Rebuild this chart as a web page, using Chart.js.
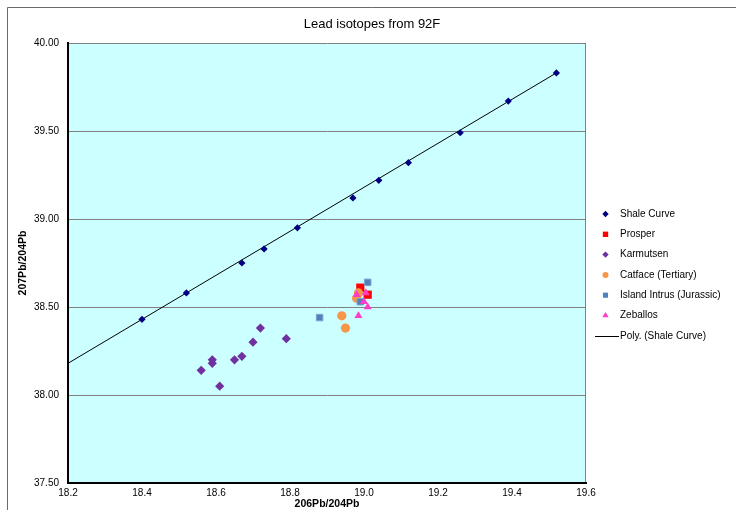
<!DOCTYPE html>
<html>
<head>
<meta charset="utf-8">
<script src="https://cdn.jsdelivr.net/npm/chart.js@4/dist/chart.umd.min.js"></script>
<style>
html,body{margin:0;padding:0;background:#ffffff;}
#wrap{position:relative;width:736px;height:510px;}
</style>
</head>
<body>
<div id="wrap"><canvas id="c" width="736" height="510"></canvas></div>
<script>
// ---- text ----
const chartTitle = 'Lead isotopes from 92F';
const xAxisTitle = '206Pb/204Pb';
const yAxisTitle = '207Pb/204Pb';
const seriesNames = ['Shale Curve', 'Prosper', 'Karmutsen', 'Catface (Tertiary)', 'Island Intrus (Jurassic)', 'Zeballos', 'Poly. (Shale Curve)'];

// ---- axis ticks ----
const xMin = 18.2, xMax = 19.6, xStep = 0.2;
const yMin = 37.5, yMax = 40.0, yStep = 0.5;

// ---- series values ----
const shaleX = [18.40, 18.52, 18.67, 18.73, 18.82, 18.97, 19.04, 19.12, 19.26, 19.39, 19.52];
const shaleY = [38.43, 38.58, 38.75, 38.83, 38.95, 39.12, 39.22, 39.32, 39.49, 39.67, 39.83];

const prosperX = [18.99, 19.01];
const prosperY = [38.61, 38.57];

const karmutsenX = [18.56, 18.59, 18.59, 18.61, 18.65, 18.67, 18.70, 18.72, 18.79];
const karmutsenY = [38.14, 38.18, 38.20, 38.05, 38.20, 38.22, 38.30, 38.38, 38.32];

const catfaceX = [18.94, 18.95, 18.985, 18.98];
const catfaceY = [38.45, 38.38, 38.58, 38.55];

const islandX = [19.01, 18.88, 18.99];
const islandY = [38.64, 38.44, 38.53];

const zeballosX = [19.005, 18.98, 19.00, 19.01, 18.985];
const zeballosY = [38.58, 38.57, 38.53, 38.50, 38.45];

// trendline
const trendX = [18.2, 18.4, 18.8, 19.2, 19.52];
const trendY = [38.18, 38.43, 38.93, 39.43, 39.83];

const pts = (xs, ys) => xs.map((x, i) => ({x: x, y: ys[i]}));

const FONT = '"Liberation Sans", Arial, Helvetica, sans-serif';

const datasets = [
  {label: seriesNames[0], data: pts(shaleX, shaleY), pointStyle: 'rectRot', pointRadius: 3.6, backgroundColor: '#000080', borderColor: '#000080', borderWidth: 0, order: 9},
  {label: seriesNames[1], data: pts(prosperX, prosperY), pointStyle: 'rect', pointRadius: 5.8, backgroundColor: '#FF0000', borderColor: '#FF0000', borderWidth: 0, order: 8},
  {label: seriesNames[2], data: pts(karmutsenX, karmutsenY), pointStyle: 'rectRot', pointRadius: 4.6, backgroundColor: '#7030A0', borderColor: '#7030A0', borderWidth: 0, order: 7},
  {label: seriesNames[3], data: pts(catfaceX, catfaceY), pointStyle: 'circle', pointRadius: 4.6, backgroundColor: '#F79646', borderColor: '#F79646', borderWidth: 0, order: 6},
  {label: seriesNames[4], data: pts(islandX, islandY), pointStyle: 'rect', pointRadius: 4.6, backgroundColor: '#4F81BD', borderColor: '#7FA3D0', borderWidth: 1, order: 5},
  {label: seriesNames[5], data: pts(zeballosX, zeballosY), pointStyle: 'triangle', pointRadius: 4.6, backgroundColor: '#FF3CC8', borderColor: '#FF3CC8', borderWidth: 0, order: 4},
  {label: seriesNames[6], data: pts(trendX, trendY), showLine: true, pointRadius: 0, borderColor: '#000000', borderWidth: 1, backgroundColor: '#000000', order: 10, tension: 0}
];

const legendStyles = [
  {style: 'rectRot', r: 3.2, color: '#000080'},
  {style: 'rect', r: 3.8, color: '#FF0000'},
  {style: 'rectRot', r: 3.2, color: '#7030A0'},
  {style: 'circle', r: 3.0, color: '#F79646'},
  {style: 'rect', r: 3.6, color: '#4F81BD'},
  {style: 'triangle', r: 3.6, color: '#FF3CC8'},
  {style: 'line', r: 0, color: '#000000'}
];

const decorPlugin = {
  id: 'decor',
  beforeDraw(chart) {
    const ctx = chart.ctx, a = chart.chartArea;
    ctx.save();
    // outer chart frame (left and top visible)
    ctx.strokeStyle = '#6a6a6a';
    ctx.lineWidth = 1;
    ctx.beginPath();
    ctx.moveTo(7.5, 510);
    ctx.lineTo(7.5, 7.5);
    ctx.lineTo(736, 7.5);
    ctx.stroke();
    // plot background
    ctx.fillStyle = '#CCFFFF';
    ctx.fillRect(a.left, a.top, a.right - a.left, a.bottom - a.top);
    // right plot border
    ctx.strokeStyle = '#808080';
    ctx.beginPath();
    ctx.moveTo(a.right - 0.5, a.top);
    ctx.lineTo(a.right - 0.5, a.bottom);
    ctx.stroke();
    // title
    ctx.fillStyle = '#000000';
    ctx.font = '13px ' + FONT;
    ctx.textAlign = 'center';
    ctx.textBaseline = 'middle';
    ctx.fillText(chartTitle, 372, 24);
    ctx.restore();
  },
  afterDraw(chart) {
    const ctx = chart.ctx;
    ctx.save();
    const mx = 605.5, tx = 620, y0 = 214, dy = 20.3;
    chart.data.datasets.forEach((ds, i) => {
      const y = y0 + i * dy;
      const st = legendStyles[i];
      ctx.fillStyle = st.color;
      ctx.strokeStyle = st.color;
      if (st.style === 'line') {
        ctx.lineWidth = 1;
        ctx.beginPath();
        ctx.moveTo(595, Math.round(y) + 0.5);
        ctx.lineTo(619, Math.round(y) + 0.5);
        ctx.stroke();
      } else {
        Chart.helpers.drawPoint(ctx, {pointStyle: st.style, radius: st.r, rotation: 0, borderWidth: 0}, mx, y);
      }
      ctx.fillStyle = '#000000';
      ctx.font = '10px ' + FONT;
      ctx.textAlign = 'left';
      ctx.textBaseline = 'middle';
      ctx.fillText(ds.label, tx, y);
    });
    ctx.restore();
  }
};

new Chart(document.getElementById('c'), {
  type: 'scatter',
  data: {datasets: datasets},
  plugins: [decorPlugin],
  options: {
    responsive: false,
    animation: false,
    devicePixelRatio: 1,
    layout: {padding: {left: 8, top: 43, right: 150, bottom: 0}},
    plugins: {legend: {display: false}, title: {display: false}, tooltip: {enabled: false}},
    scales: {
      x: {
        type: 'linear',
        position: 'bottom',
        min: xMin, max: xMax,
        afterFit: s => { s.height = 27; },
        grid: {display: false, drawTicks: false},
        border: {display: true, color: '#000000', width: 2},
        ticks: {
          stepSize: xStep,
          autoSkip: false,
          maxRotation: 0,
          padding: 4,
          color: '#000000',
          font: {family: FONT, size: 10},
          callback: v => Number(v).toFixed(1)
        },
        title: {display: true, text: xAxisTitle, color: '#000000', font: {family: FONT, size: 10.5, weight: 'bold'}, padding: {top: 0, bottom: 0}}
      },
      y: {
        type: 'linear',
        position: 'left',
        min: yMin, max: yMax,
        afterFit: s => { s.width = 60; },
        grid: {
          display: true,
          drawTicks: false,
          color: ctx => (ctx.tick && Math.abs(ctx.tick.value - yMin) < 1e-6) ? 'rgba(0,0,0,0)' : '#808080',
          lineWidth: 1
        },
        border: {display: true, color: '#000000', width: 2},
        ticks: {
          stepSize: yStep,
          padding: 9,
          color: '#000000',
          font: {family: FONT, size: 10},
          callback: v => Number(v).toFixed(2)
        },
        title: {display: true, text: yAxisTitle, color: '#000000', font: {family: FONT, size: 10.5, weight: 'bold'}, padding: {top: 9, bottom: 0}}
      }
    }
  }
});
</script>
</body>
</html>
